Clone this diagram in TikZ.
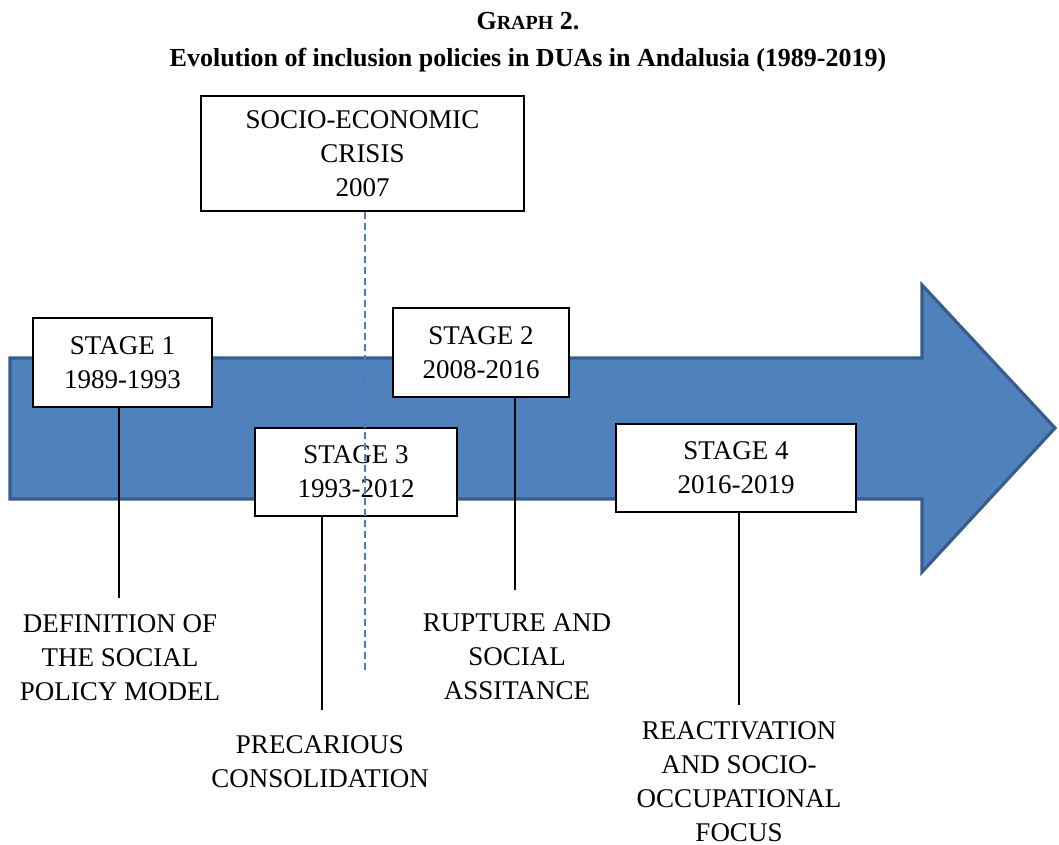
\documentclass[tikz,border=0pt]{standalone}
\usepackage{fontspec}
\setmainfont{Liberation Serif}
\usepackage{tikz}
\usetikzlibrary{calc}
\definecolor{arrowfill}{HTML}{4F81BD}
\definecolor{arrowline}{HTML}{385D8A}
\definecolor{crisisline}{HTML}{4A7EBB}
\tikzset{
	stagebox/.style={draw=black, line width=1.8pt, fill=white, align=center, inner sep=0pt},
	phaselabel/.style={anchor=north, align=center, inner sep=0pt},
	link/.style={line width=1.8pt, color=black}
}
\begin{document}
\begin{tikzpicture}[x=1pt, y=1pt, font=\fontsize{27}{34}\selectfont]
		%%%%% START %%%%%
		\useasboundingbox (0, 0) rectangle (1059, 845);
		
		\node[align=center, font=\fontsize{26}{37}\selectfont\bfseries] (title) at (528, 803)
			{G{\fontsize{20}{37}\selectfont RAPH} 2.\\Evolution of inclusion policies in DUAs in Andalusia (1989-2019)};
		
		\draw[line width=3.2pt, color=arrowline, fill=arrowfill, line join=miter]
			(10, 487) -- (922, 487) -- (922, 560) -- (1055, 417) -- (922, 273) -- (922, 346) -- (10, 346) -- cycle;
		
		\node[stagebox, minimum width=323, minimum height=115] (crisis) at (362.5, 691.5) {SOCIO-ECONOMIC\\CRISIS\\2007};
		\node[stagebox, minimum width=179, minimum height=89] (s1) at (122.5, 482.5) {STAGE 1\\1989-1993};
		\node[stagebox, minimum width=176, minimum height=89] (s2) at (481, 492.5) {STAGE 2\\2008-2016};
		\node[stagebox, minimum width=202, minimum height=88] (s3) at (356, 373) {STAGE 3\\1993-2012};
		\node[stagebox, minimum width=240, minimum height=88] (s4) at (736, 377) {STAGE 4\\2016-2019};
		
		\coordinate (crisisend) at (365, 173);
		\draw[line width=1.5pt, color=crisisline, dash pattern=on 7pt off 4pt] (crisis.south -| crisisend) -- (crisisend);
		
		\coordinate (e1) at (119, 247);
		\coordinate (e2) at (515, 255);
		\coordinate (e3) at (322, 135);
		\coordinate (e4) at (739, 140);
		
		\node[phaselabel] (l1) at (120, 231) {DEFINITION OF\\THE SOCIAL\\POLICY MODEL};
		\node[phaselabel] (l2) at (517, 232) {RUPTURE AND\\SOCIAL\\ASSITANCE};
		\node[phaselabel] (l3) at (320, 110) {PRECARIOUS\\CONSOLIDATION};
		\node[phaselabel] (l4) at (739, 124) {REACTIVATION\\AND SOCIO-\\OCCUPATIONAL\\FOCUS};
		
		\draw[link] (s1.south -| e1) -- (e1);
		\draw[link] (s2.south -| e2) -- (e2);
		\draw[link] (s3.south -| e3) -- (e3);
		\draw[link] (s4.south -| e4) -- (e4);
		%%%%% END %%%%%
	\end{tikzpicture}
\end{document}
